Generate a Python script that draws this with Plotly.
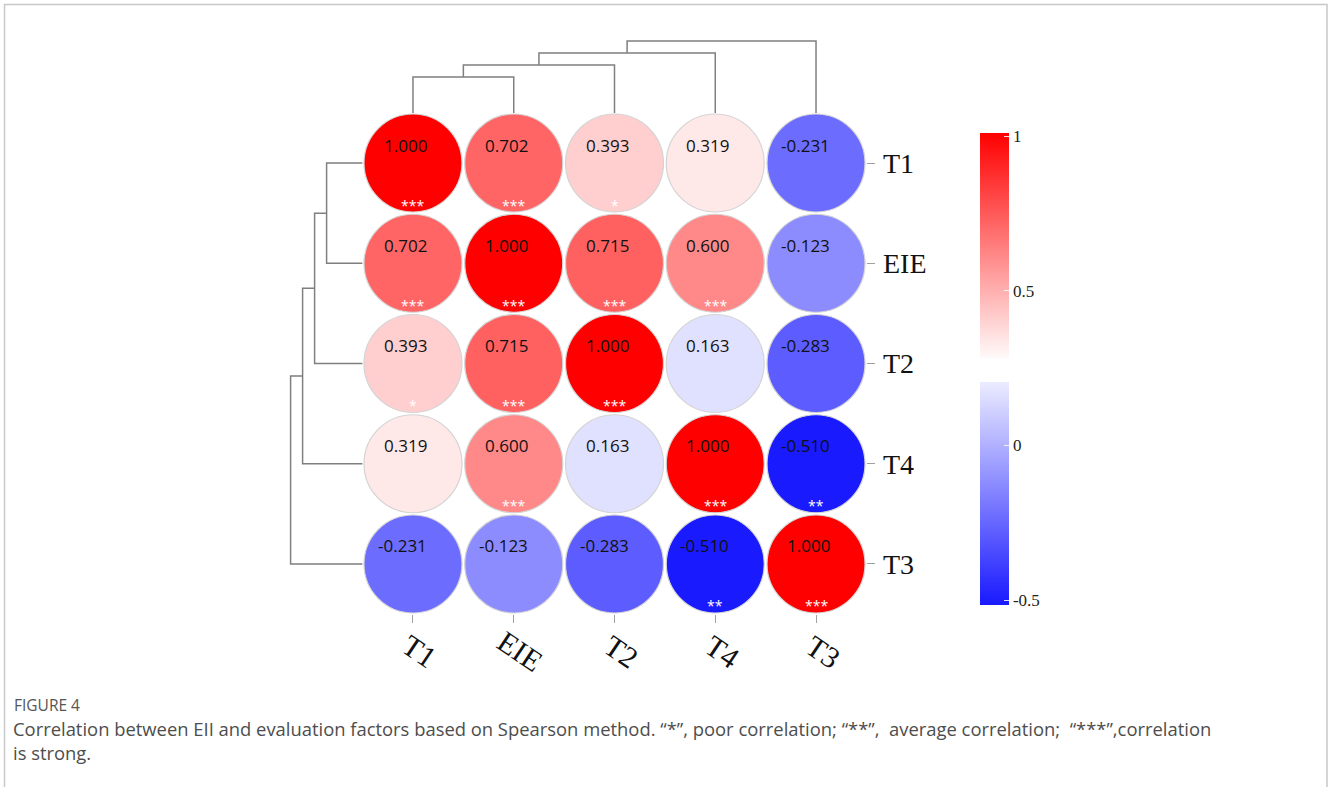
import plotly.graph_objects as go

# ---------------- data ----------------
labels = ["T1", "EIE", "T2", "T4", "T3"]
corr = [
    [1.000, 0.702, 0.393, 0.319, -0.231],
    [0.702, 1.000, 0.715, 0.600, -0.123],
    [0.393, 0.715, 1.000, 0.163, -0.283],
    [0.319, 0.600, 0.163, 1.000, -0.510],
    [-0.231, -0.123, -0.283, -0.510, 1.000],
]
stars = [
    ["***", "***", "*", "", ""],
    ["***", "***", "***", "***", ""],
    ["*", "***", "***", "", ""],
    ["", "***", "", "***", "**"],
    ["", "", "", "**", "***"],
]
# hierarchical clustering (scipy-like linkage: ids >= 5 are merged clusters)
link_pairs = [(0, 1), (5, 2), (6, 3), (7, 4)]
link_heights = [0.36, 0.48, 0.60, 0.72]
cbar_top_ticks = [0.5, 1]
cbar_top_text = ["0.5", "1"]
cbar_bot_ticks = [-0.5, 0]
cbar_bot_text = ["-0.5", "0"]
caption_title = "FIGURE 4"
caption_text = ("Correlation between EII and evaluation factors based on Spearson method. "
                "\u201c*\u201d, poor correlation; \u201c**\u201d,  average correlation;  "
                "\u201c***\u201d,correlation<br>is strong.")

# ---------------- layout helpers ----------------
W, H = 1328, 787
def px_x(p):
    return p / W
def px_y(p):
    return 1 - p / H

X0, X1 = 362.6, 866.4      # main grid left/right
Y0, Y1 = 112.9, 614.1      # main grid top/bottom

CMIN, CMAX = -0.6, 1.0
colorscale = [
    [0.0, "rgb(0,0,255)"],
    [(0.205 - CMIN) / (CMAX - CMIN), "rgb(236,236,255)"],
    [(0.25 - CMIN) / (CMAX - CMIN), "rgb(255,255,255)"],
    [1.0, "rgb(255,0,0)"],
]

n = len(labels)
xs, ys, vals = [], [], []
for i in range(n):
    for j in range(n):
        xs.append(j)
        ys.append(i)
        vals.append(corr[i][j])

fig = go.Figure()

# circles
fig.add_trace(go.Scatter(
    x=xs, y=ys, mode="markers",
    marker=dict(size=98, color=vals, colorscale=colorscale, cmin=CMIN, cmax=CMAX,
                line=dict(color="#d4d4d4", width=1.2), opacity=1),
    hoverinfo="skip", showlegend=False, cliponaxis=False,
    xaxis="x", yaxis="y",
))

# colorbars (two segments)
fig.add_trace(go.Scatter(
    x=[0], y=[0], mode="markers", showlegend=False, hoverinfo="skip",
    marker=dict(size=1, opacity=0, color=[1.0], cmin=0.282, cmax=1.01,
                colorscale=[[0, "rgb(255,250,250)"], [1, "rgb(255,0,0)"]],
                showscale=True,
                colorbar=dict(
                    x=px_x(980), xanchor="left", xpad=0, ypad=0,
                    y=px_y(358), yanchor="bottom",
                    len=225, lenmode="pixels", thickness=29,
                    outlinewidth=0, ticks="inside", ticklen=5,
                    tickcolor="rgba(255,255,255,0.85)",
                    tickvals=cbar_top_ticks, ticktext=cbar_top_text,
                    tickfont=dict(family="Liberation Serif", size=17, color="#222"),
                )),
))
fig.add_trace(go.Scatter(
    x=[0], y=[0], mode="markers", showlegend=False, hoverinfo="skip",
    marker=dict(size=1, opacity=0, color=[0.0], cmin=-0.516, cmax=0.205,
                colorscale=[[0, "rgb(25,25,255)"], [1, "rgb(236,236,255)"]],
                showscale=True,
                colorbar=dict(
                    x=px_x(980), xanchor="left", xpad=0, ypad=0,
                    y=px_y(605), yanchor="bottom",
                    len=223, lenmode="pixels", thickness=29,
                    outlinewidth=0, ticks="inside", ticklen=5,
                    tickcolor="rgba(255,255,255,0.85)",
                    tickvals=cbar_bot_ticks, ticktext=cbar_bot_text,
                    tickfont=dict(family="Liberation Serif", size=17, color="#222"),
                )),
))

# dendrograms
pos = {k: float(k) for k in range(n)}
hgt = {k: 0.0 for k in range(n)}
top_x, top_y, left_x, left_y = [], [], [], []
for m, ((a, b), h) in enumerate(zip(link_pairs, link_heights)):
    xa, xb = pos[a], pos[b]
    ha, hb = hgt[a], hgt[b]
    top_x += [xa, xa, xb, xb, None]
    top_y += [ha, h, h, hb, None]
    left_x += [ha, h, h, hb, None]
    left_y += [xa, xa, xb, xb, None]
    nid = n + m
    pos[nid] = (xa + xb) / 2
    hgt[nid] = h

fig.add_trace(go.Scatter(x=top_x, y=top_y, mode="lines",
                         line=dict(color="#7f7f7f", width=1.5),
                         hoverinfo="skip", showlegend=False,
                         xaxis="x2", yaxis="y2", cliponaxis=False))
fig.add_trace(go.Scatter(x=left_x, y=left_y, mode="lines",
                         line=dict(color="#7f7f7f", width=1.5),
                         hoverinfo="skip", showlegend=False,
                         xaxis="x3", yaxis="y3", cliponaxis=False))

annotations = []
for i in range(n):
    for j in range(n):
        annotations.append(dict(
            x=j, y=i, xref="x", yref="y", text=f"{corr[i][j]:.3f}",
            showarrow=False, xanchor="right", yanchor="middle",
            xshift=16, yshift=18,
            font=dict(family="Open Sans", size=17, color="#111"),
        ))
        if stars[i][j]:
            annotations.append(dict(
                x=j, y=i, xref="x", yref="y", text=stars[i][j],
                showarrow=False, xanchor="center", yanchor="middle",
                yshift=-42,
                font=dict(family="Open Sans", size=14, color="white"),
            ))
# bottom rotated labels
for j, lab in enumerate(labels):
    annotations.append(dict(
        x=j, y=px_y(651), xref="x", yref="paper", text=lab,
        showarrow=False, textangle=34, xshift=7,
        xanchor="center", yanchor="middle",
        font=dict(family="Liberation Serif", size=30, color="#111"),
    ))
annotations.append(dict(
    x=px_x(12), y=px_y(705), xref="paper", yref="paper", text=caption_title,
    showarrow=False, xanchor="left", yanchor="middle",
    font=dict(family="Open Sans", size=15.5, color="#555"),
))
annotations.append(dict(
    x=px_x(11), y=px_y(714), xref="paper", yref="paper", text=caption_text,
    showarrow=False, xanchor="left", yanchor="top", align="left",
    font=dict(family="Open Sans", size=18.4, color="#4d4d4d"),
))

fig.update_layout(
    width=W, height=H,
    margin=dict(l=0, r=0, t=0, b=0),
    paper_bgcolor="white", plot_bgcolor="rgba(0,0,0,0)",
    showlegend=False,
    xaxis=dict(domain=[px_x(X0), px_x(X1)], range=[-0.5, n - 0.5],
               tickvals=list(range(n)), showticklabels=False,
               ticks="outside", ticklen=8, tickcolor="#a0a0a0", tickwidth=1.2,
               showgrid=False, zeroline=False, showline=False, fixedrange=True),
    yaxis=dict(domain=[px_y(Y1), px_y(Y0)], range=[n - 0.5, -0.5],
               tickvals=list(range(n)), ticktext=labels, side="right",
               ticks="outside", ticklen=8, tickcolor="#a0a0a0", tickwidth=1.2,
               ticklabelstandoff=2,
               tickfont=dict(family="Liberation Serif", size=28, color="#111"),
               showgrid=False, zeroline=False, showline=False, fixedrange=True),
    xaxis2=dict(domain=[px_x(X0), px_x(X1)], range=[-0.5, n - 0.5],
                visible=False, fixedrange=True),
    yaxis2=dict(domain=[px_y(Y0), px_y(Y0 - 80)], range=[0, 0.8],
                visible=False, fixedrange=True, anchor="x2"),
    xaxis3=dict(domain=[px_x(X0 - 80), px_x(X0)], range=[0.8, 0],
                visible=False, fixedrange=True, anchor="y3"),
    yaxis3=dict(domain=[px_y(Y1), px_y(Y0)], range=[n - 0.5, -0.5],
                visible=False, fixedrange=True, anchor="x3"),
    annotations=annotations,
    shapes=[dict(type="rect", xref="paper", yref="paper",
                 x0=px_x(4.5), x1=px_x(1327), y0=-0.05, y1=px_y(4.5),
                 line=dict(color="#c8c8c8", width=1.5), fillcolor="rgba(0,0,0,0)")],
)
fig.data[3].update(xaxis="x2", yaxis="y2")
fig.data[4].update(xaxis="x3", yaxis="y3")

fig.write_html("out.html", config={"displayModeBar": False},
               post_script="document.body.style.margin='0';document.body.style.overflow='hidden';")
